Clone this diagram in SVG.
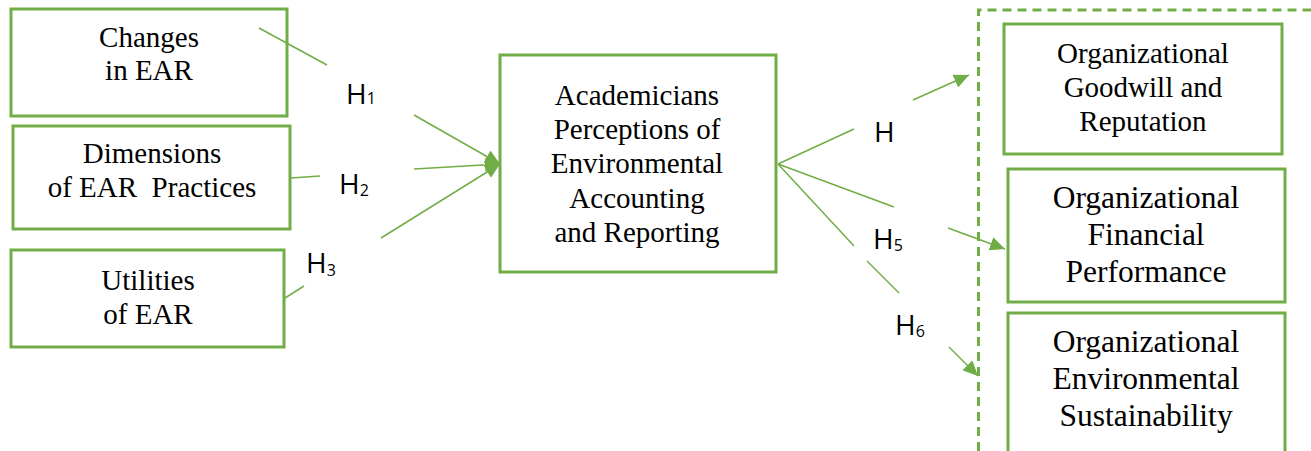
<svg xmlns="http://www.w3.org/2000/svg" width="1311" height="451" viewBox="0 0 1311 451">
  <style>
    .box { fill: #ffffff; stroke: #70AD47; stroke-width: 3; }
    .frame { fill: none; stroke: #70AD47; stroke-width: 3; stroke-dasharray: 9 6; }
    .link { fill: none; stroke: #70AD47; stroke-width: 1.5; }
    .lbl { font-family: "Liberation Serif", "Times New Roman", serif; fill: #000; text-anchor: middle; }
    .hyp { font-family: "Open Sans", "Liberation Sans", sans-serif; font-size: 28px; fill: #000; }
    .sub { font-size: 16px; }
  </style>
  <defs>
    <marker id="arrow" viewBox="0 0 15 14" refX="15" refY="7" markerWidth="15" markerHeight="14" markerUnits="userSpaceOnUse" orient="auto">
      <path d="M0,0 L15,7 L0,14 z" fill="#70AD47"/>
    </marker>
    <clipPath id="clipH6">
      <rect x="880" y="300" width="60" height="37"/>
    </clipPath>
  </defs>

  <rect width="1311" height="451" fill="#ffffff"/>

  <!-- outcome grouping frame -->
  <path class="frame" d="M978.5,451 V10 H1311"/>

  <!-- independent variables -->
  <g id="changes">
    <rect class="box" x="11" y="9" width="276" height="107"/>
    <text class="lbl" font-size="29" x="149" y="47">Changes</text>
    <text class="lbl" font-size="29" x="149" y="80">in EAR</text>
  </g>
  <g id="dimensions">
    <rect class="box" x="13" y="126" width="277" height="103"/>
    <text class="lbl" font-size="29" x="152" y="163">Dimensions</text>
    <text class="lbl" font-size="29" x="152" y="197" xml:space="preserve">of EAR  Practices</text>
  </g>
  <g id="utilities">
    <rect class="box" x="11" y="250" width="273" height="97"/>
    <text class="lbl" font-size="29" x="148" y="290">Utilities</text>
    <text class="lbl" font-size="29" x="148" y="324">of EAR</text>
  </g>

  <!-- mediator -->
  <g id="perceptions">
    <rect class="box" x="500" y="55" width="276" height="217"/>
    <text class="lbl" font-size="29" x="637" y="105">Academicians</text>
    <text class="lbl" font-size="29" x="637" y="139">Perceptions of</text>
    <text class="lbl" font-size="29" x="637" y="173">Environmental</text>
    <text class="lbl" font-size="29" x="637" y="208">Accounting</text>
    <text class="lbl" font-size="29" x="637" y="242">and Reporting</text>
  </g>

  <!-- outcomes -->
  <g id="goodwill">
    <rect class="box" x="1004" y="24" width="278" height="130"/>
    <text class="lbl" font-size="29" x="1143" y="63">Organizational</text>
    <text class="lbl" font-size="29" x="1143" y="97">Goodwill and</text>
    <text class="lbl" font-size="29" x="1143" y="131">Reputation</text>
  </g>
  <g id="financial">
    <rect class="box" x="1008" y="169" width="277" height="133"/>
    <text class="lbl" font-size="31.5" x="1146" y="208">Organizational</text>
    <text class="lbl" font-size="31.5" x="1146" y="245">Financial</text>
    <text class="lbl" font-size="31.5" x="1146" y="282">Performance</text>
  </g>
  <g id="sustainability">
    <rect class="box" x="1008" y="313" width="277" height="150"/>
    <text class="lbl" font-size="31.5" x="1146" y="352">Organizational</text>
    <text class="lbl" font-size="31.5" x="1146" y="389">Environmental</text>
    <text class="lbl" font-size="31.5" x="1146" y="426">Sustainability</text>
  </g>

  <!-- hypothesis paths -->
  <g id="connectors">
    <line class="link" x1="259" y1="28" x2="327" y2="65"/>
    <line class="link" x1="414" y1="115" x2="500" y2="164" marker-end="url(#arrow)"/>
    <line class="link" x1="291" y1="178" x2="320" y2="176"/>
    <line class="link" x1="414" y1="169" x2="500" y2="164" marker-end="url(#arrow)"/>
    <line class="link" x1="285" y1="298" x2="304" y2="286"/>
    <line class="link" x1="381" y1="238" x2="500" y2="164" marker-end="url(#arrow)"/>

    <line class="link" x1="778" y1="164" x2="854" y2="129"/>
    <line class="link" x1="913" y1="100" x2="969" y2="75" marker-end="url(#arrow)"/>
    <line class="link" x1="778" y1="164" x2="894" y2="207"/>
    <line class="link" x1="948" y1="228" x2="1005" y2="249" marker-end="url(#arrow)"/>
    <line class="link" x1="778" y1="164" x2="854" y2="246"/>
    <line class="link" x1="867" y1="261" x2="899" y2="293"/>
    <line class="link" x1="949" y1="347" x2="978" y2="376" marker-end="url(#arrow)"/>
  </g>

  <!-- hypothesis labels -->
  <g id="labels">
    <text class="hyp" x="346" y="104">H<tspan class="sub">1</tspan></text>
    <text class="hyp" x="339" y="194">H<tspan class="sub" dy="2">2</tspan></text>
    <text class="hyp" x="306" y="273">H<tspan class="sub" dy="3">3</tspan></text>
    <text class="hyp" x="874" y="142">H</text>
    <text class="hyp" x="873" y="249">H<tspan class="sub" dy="2">5</tspan></text>
    <text class="hyp" x="895" y="335" clip-path="url(#clipH6)">H<tspan class="sub" dy="2">6</tspan></text>
  </g>
</svg>
